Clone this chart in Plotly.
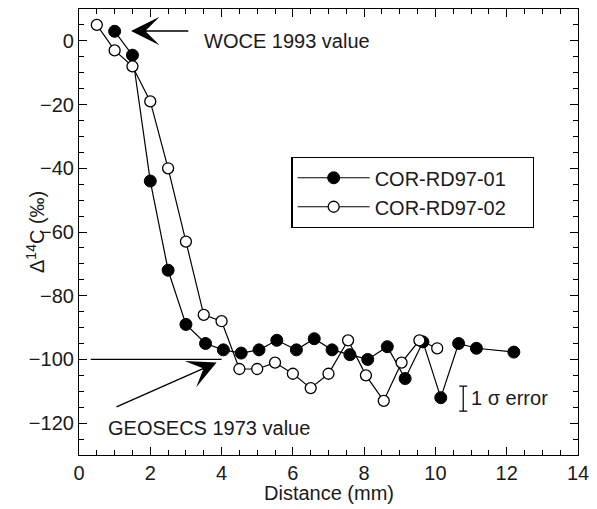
import plotly.graph_objects as go

# ---------------- data ----------------
series1_name = "COR-RD97-01"
series1_x = [1.0, 1.5, 2.0, 2.5, 3.0, 3.55, 4.05, 4.55, 5.05, 5.55, 6.1, 6.6, 7.1, 7.6,
             8.1, 8.65, 9.15, 9.65, 10.15, 10.65, 11.15, 12.2]
series1_y = [3, -4.5, -44, -72, -89, -95, -97, -98, -97, -94, -97, -93.5, -97, -98.5,
             -100, -96, -106, -94.5, -112, -95, -96.5, -97.7]

series2_name = "COR-RD97-02"
series2_x = [0.5, 1.0, 1.5, 2.0, 2.5, 3.0, 3.5, 4.0, 4.5, 5.0, 5.5, 6.0, 6.5, 7.0,
             7.55, 8.05, 8.55, 9.05, 9.55, 10.05]
series2_y = [5, -3, -8, -19, -40, -63, -86, -88, -103, -103, -101, -104.5, -109, -104.5,
             -94, -105, -113, -101, -94, -96.5]

x_ticks = [0, 2, 4, 6, 8, 10, 12, 14]
y_ticks = [0, -20, -40, -60, -80, -100, -120]

x_title = "Distance (mm)"
y_title = "\u0394<sup>14</sup>C (\u2030)"
woce_label = "WOCE 1993 value"
woce_value = 3.1
geosecs_label = "GEOSECS 1973 value"
geosecs_value = -100
error_label = "1 \u03c3 error"
error_center_x = 10.78
error_center_y = -112.3
error_half = 3.9

FONT = "Liberation Sans, Arial, Helvetica, sans-serif"
TXT = "#1a1a1a"
FS = 20
PAD = "\u00a0" * 4

fig = go.Figure()

fig.add_trace(go.Scatter(
    x=series1_x, y=series1_y, name=series1_name + PAD, mode="lines+markers",
    line=dict(color="black", width=1.2),
    marker=dict(symbol="circle", size=12, color="black", line=dict(color="black", width=1)),
))
fig.add_trace(go.Scatter(
    x=series2_x, y=series2_y, name=series2_name + PAD, mode="lines+markers",
    line=dict(color="black", width=1.2),
    marker=dict(symbol="circle", size=11, color="white", line=dict(color="black", width=1.3)),
))

# 1 sigma error indicator
fig.add_trace(go.Scatter(
    x=[error_center_x], y=[error_center_y], mode="markers", showlegend=False,
    marker=dict(size=1, color="rgba(0,0,0,0)"), hoverinfo="skip",
    error_y=dict(type="data", array=[error_half], visible=True, color="black",
                 thickness=1.2, width=4),
))

# GEOSECS horizontal reference line
fig.add_shape(type="line", xref="x", yref="y", x0=0.33, x1=4.0,
              y0=geosecs_value, y1=geosecs_value, line=dict(color="black", width=1.2))

# arrows
fig.add_annotation(x=1.46, y=woce_value, ax=3.11, ay=woce_value, xref="x", yref="y",
                   axref="x", ayref="y", text="", showarrow=True, arrowhead=3,
                   arrowsize=3.4, arrowwidth=1.4, arrowcolor="black", standoff=0)
fig.add_annotation(x=3.86, y=-101.0, ax=1.01, ay=-115.1, xref="x", yref="y",
                   axref="x", ayref="y", text="", showarrow=True, arrowhead=3,
                   arrowsize=3.4, arrowwidth=1.4, arrowcolor="black", standoff=0)

# labels
fig.add_annotation(x=3.45, y=0, xref="x", yref="y", text=woce_label, showarrow=False,
                   xanchor="left", yanchor="middle", font=dict(family=FONT, size=FS, color=TXT))
fig.add_annotation(x=0.77, y=-121.4, xref="x", yref="y", text=geosecs_label, showarrow=False,
                   xanchor="left", yanchor="middle", font=dict(family=FONT, size=FS, color=TXT))
fig.add_annotation(x=10.95, y=-112.2, xref="x", yref="y", text=error_label, showarrow=False,
                   xanchor="left", yanchor="middle", font=dict(family=FONT, size=FS, color=TXT))

# axis titles
fig.add_annotation(x=0, y=0.5, xref="paper", yref="paper", text=y_title, showarrow=False,
                   textangle=-90, xanchor="center", yanchor="middle", xshift=-44,
                   font=dict(family=FONT, size=FS, color=TXT))
fig.add_annotation(x=0.5, y=0, xref="paper", yref="paper", text=x_title, showarrow=False,
                   xanchor="center", yanchor="middle", yshift=-38,
                   font=dict(family=FONT, size=FS, color=TXT))

axis_common = dict(
    showline=True, linecolor="black", linewidth=1.2, mirror="allticks",
    ticks="inside", ticklen=8, tickwidth=1.2, tickcolor="black",
    showgrid=False, zeroline=False, automargin=False,
    tickfont=dict(family=FONT, size=FS, color=TXT),
)

fig.update_xaxes(
    range=[0, 14], tickvals=x_ticks, ticktext=[str(v) for v in x_ticks],
    minor=dict(dtick=0.5, ticks="inside", ticklen=5, tickwidth=1.2, tickcolor="black", showgrid=False),
    **axis_common,
)
fig.update_yaxes(
    range=[-130, 10], tickvals=y_ticks,
    minor=dict(dtick=5, ticks="inside", ticklen=5, tickwidth=1.2, tickcolor="black", showgrid=False),
    **axis_common,
)

# page body has an 8px default margin; figure is sized/offset to compensate
fig.update_layout(
    width=589, height=501,
    margin=dict(l=71, r=19, t=1, b=54),
    paper_bgcolor="white", plot_bgcolor="white",
    showlegend=True,
    legend=dict(
        x=0.4258, y=0.668, xanchor="left", yanchor="top",
        bgcolor="white", bordercolor="black", borderwidth=1.2,
        font=dict(family=FONT, size=FS, color=TXT),
        itemwidth=72, tracegroupgap=0,
    ),
    font=dict(family=FONT, size=FS, color=TXT),
)

fig.write_html("out.html")
